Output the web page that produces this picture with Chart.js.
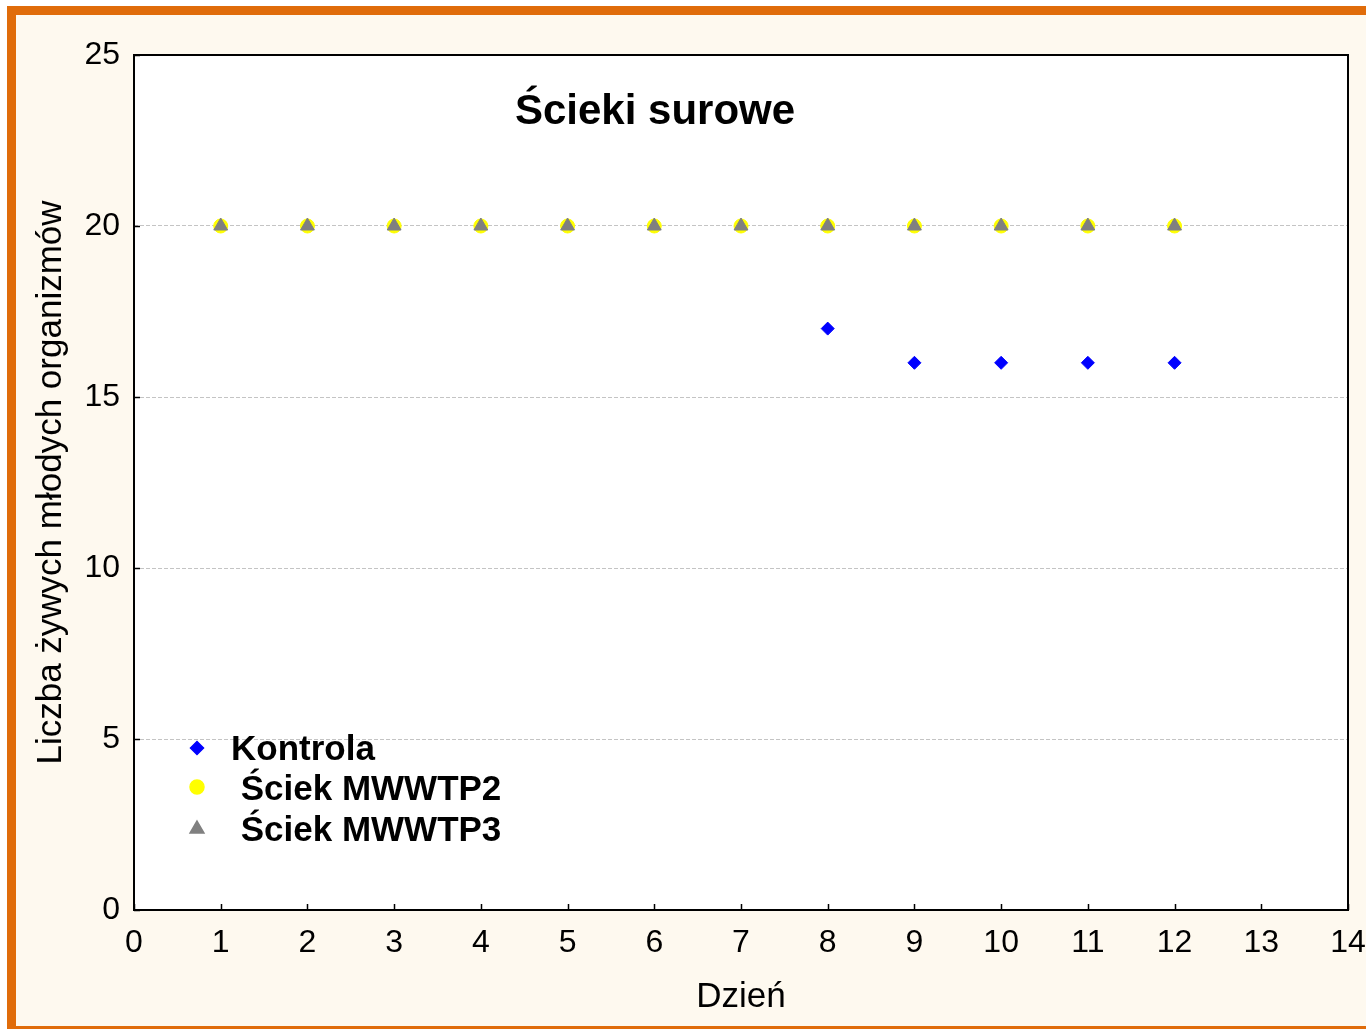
<!DOCTYPE html>
<html>
<head>
<meta charset="utf-8">
<script src="https://cdn.jsdelivr.net/npm/chart.js@4.4.0/dist/chart.umd.min.js"></script>
<style>
  html, body { margin: 0; padding: 0; background: #fff; overflow: hidden; }
  #frame {
    position: absolute; left: 7px; top: 6px;
    width: 1400px; height: 1011px;
    border: 9px solid #e06c0a;
    background: #fef9ef;
  }
  #wrap { position: absolute; left: 0; top: 0; width: 1366px; height: 1029px; }
</style>
</head>
<body>
<div id="frame"></div>
<div id="wrap"><canvas id="c" width="1366" height="1029"></canvas></div>
<script>
const days = [1, 2, 3, 4, 5, 6, 7, 8, 9, 10, 11, 12];
const kontrola = [20, 20, 20, 20, 20, 20, 20, 17, 16, 16, 16, 16];
const mwwtp2 = [20, 20, 20, 20, 20, 20, 20, 20, 20, 20, 20, 20];
const mwwtp3 = [20, 20, 20, 20, 20, 20, 20, 20, 20, 20, 20, 20];
const seriesNames = ["Kontrola", " Ściek MWWTP2", " Ściek MWWTP3"];
const chartTitle = "Ścieki surowe";
const xTitle = "Dzień";
const yTitle = "Liczba żywych młodych organizmów";

function pts(vals) {
  return days.map((d, i) => ({ x: d, y: vals[i] }));
}

const FONT = "'Liberation Sans', Arial, sans-serif";

// white plot area, frame, inside ticks, title, legend
const decor = {
  id: "decor",
  beforeDraw(chart) {
    const { ctx, chartArea: a } = chart;
    ctx.save();
    ctx.fillStyle = "#ffffff";
    ctx.fillRect(a.left, a.top, a.right - a.left, a.bottom - a.top);
    ctx.restore();
  },
  afterDraw(chart) {
    const { ctx, chartArea: a, scales } = chart;
    ctx.save();
    ctx.strokeStyle = "#000";
    ctx.lineWidth = 2;
    ctx.strokeRect(a.left, a.top, a.right - a.left, a.bottom - a.top);
    ctx.lineWidth = 1.5;
    ctx.beginPath();
    scales.x.ticks.forEach(t => {
      const px = Math.round(scales.x.getPixelForValue(t.value)) + 0.5;
      ctx.moveTo(px, a.bottom);
      ctx.lineTo(px, a.bottom - 6);
    });
    scales.y.ticks.forEach(t => {
      const py = Math.round(scales.y.getPixelForValue(t.value)) + 0.5;
      ctx.moveTo(a.left, py);
      ctx.lineTo(a.left + 6, py);
    });
    ctx.stroke();

    ctx.fillStyle = "#000";
    ctx.font = "bold 42px " + FONT;
    ctx.textAlign = "center";
    ctx.textBaseline = "alphabetic";
    ctx.fillText(chartTitle, 655, 124);

    // legend
    const rows = [760, 800, 841];
    const mk = [748, 787, 829];
    ctx.font = "bold 35px " + FONT;
    ctx.textAlign = "left";
    chart.data.datasets.forEach((ds, i) => {
      const opts = {
        pointStyle: ds.pointStyle, radius: ds.pointRadius,
        borderWidth: 1, rotation: 0
      };
      ctx.fillStyle = ds.backgroundColor;
      ctx.strokeStyle = ds.borderColor;
      Chart.helpers.drawPoint(ctx, opts, 197, mk[i]);
      ctx.fillStyle = "#000";
      ctx.fillText(ds.label, 231, rows[i]);
    });
    ctx.restore();
  }
};

new Chart(document.getElementById("c"), {
  type: "scatter",
  data: {
    datasets: [
      { label: seriesNames[0], data: pts(kontrola), pointStyle: "rectRot", pointRadius: 6.5,
        backgroundColor: "#0000ff", borderColor: "#0000ff", borderWidth: 1, order: 3 },
      { label: seriesNames[1], data: pts(mwwtp2), pointStyle: "circle", pointRadius: 7,
        backgroundColor: "#ffff00", borderColor: "#ffff00", borderWidth: 1, order: 2 },
      { label: seriesNames[2], data: pts(mwwtp3), pointStyle: "triangle", pointRadius: 8,
        backgroundColor: "#808080", borderColor: "#808080", borderWidth: 1, order: 1 }
    ]
  },
  options: {
    responsive: false,
    animation: false,
    layout: { padding: { left: 0, top: 55, right: 18, bottom: 0 } },
    plugins: { legend: { display: false }, tooltip: { enabled: false } },
    scales: {
      x: {
        type: "linear", min: 0, max: 14,
        ticks: { stepSize: 1, color: "#000", padding: 14, font: { family: FONT, size: 32 }, maxRotation: 0 },
        grid: { display: false, drawTicks: false },
        border: { display: false },
        title: { display: true, text: xTitle, color: "#000", font: { family: FONT, size: 35 }, padding: { top: 11, bottom: 11 } },
        afterFit(s) { s.height = 119; s.paddingLeft = 0; s.paddingRight = 0; }
      },
      y: {
        type: "linear", min: 0, max: 25,
        ticks: { stepSize: 5, color: "#000", padding: 14, font: { family: FONT, size: 32 } },
        grid: {
          drawTicks: false,
          color: c => (c.tick && (c.tick.value === 0 || c.tick.value === 25)) ? "rgba(0,0,0,0)" : "#c4c4c4",
          lineWidth: 1
        },
        border: { display: false, dash: [4, 2] },
        title: { display: true, text: yTitle, color: "#000", font: { family: FONT, size: 35 }, padding: { top: 30, bottom: 30 } },
        afterFit(s) { s.width = 134; s.paddingTop = 0; s.paddingBottom = 0; }
      }
    }
  },
  plugins: [decor]
});
</script>
</body>
</html>
